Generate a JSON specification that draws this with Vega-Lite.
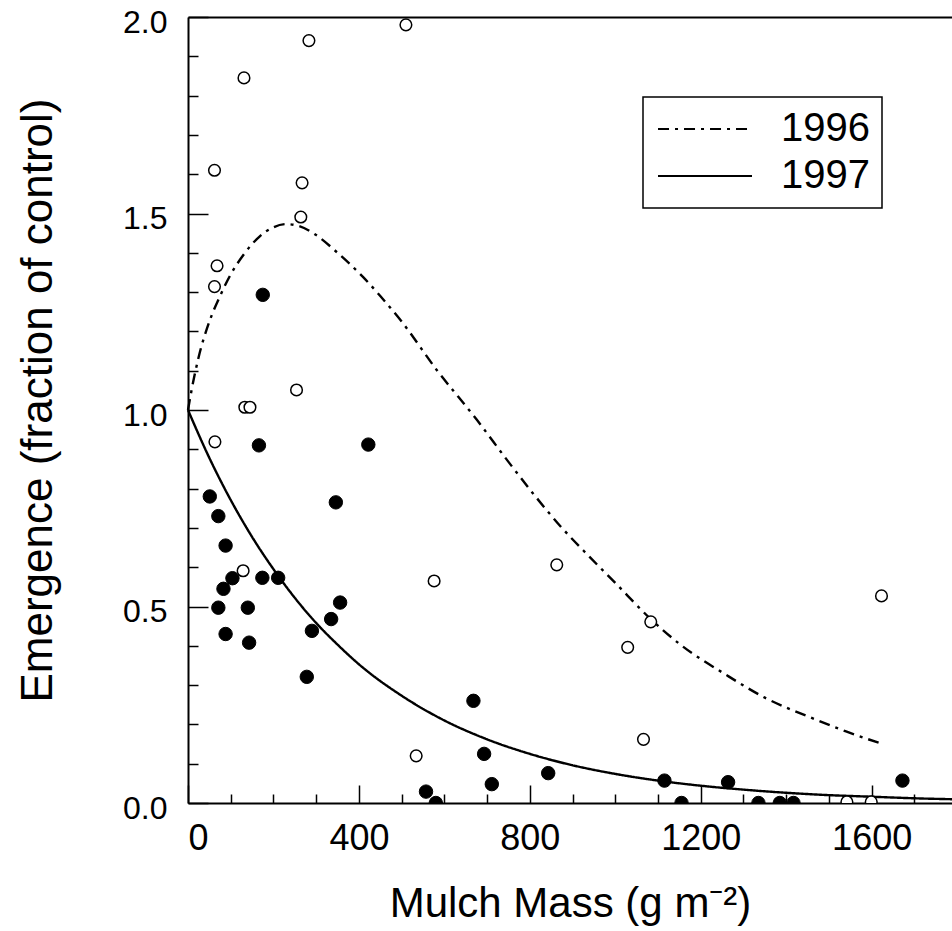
{
  "$schema": "https://vega.github.io/schema/vega-lite/v6.json",
  "width": 764,
  "height": 786,
  "autosize": {"type": "none"},
  "padding": {"left": 188, "top": 17, "right": 0, "bottom": 128},
  "background": "white",
  "config": {
    "view": {"stroke": null},
    "font": "Liberation Sans",
    "axis": {
      "domainColor": "black", "domainWidth": 2, "tickColor": "black", "tickWidth": 1.5,
      "labelColor": "black", "titleColor": "black", "grid": false,
      "labelFont": "Liberation Sans", "titleFont": "Liberation Sans", "titleFontWeight": "normal",
      "labelOverlap": false
    },
    "legend": {
      "orient": "none", "legendX": 455, "legendY": 80, "padding": 12,
      "strokeColor": "black", "strokeWidth": 1.5, "fillColor": "white",
      "labelFontSize": 40, "labelFont": "Liberation Sans",
      "labelColor": "black", "labelOffset": 56, "rowPadding": 7
    }
  },
  "datasets": {
    "points": [
      {"year": "1996", "mass": 510, "emergence": 1.98},
      {"year": "1996", "mass": 283, "emergence": 1.94},
      {"year": "1996", "mass": 131, "emergence": 1.845},
      {"year": "1996", "mass": 62, "emergence": 1.61},
      {"year": "1996", "mass": 267, "emergence": 1.578},
      {"year": "1996", "mass": 264, "emergence": 1.491},
      {"year": "1996", "mass": 68, "emergence": 1.367},
      {"year": "1996", "mass": 62, "emergence": 1.314},
      {"year": "1996", "mass": 254, "emergence": 1.051},
      {"year": "1996", "mass": 133, "emergence": 1.007},
      {"year": "1996", "mass": 145, "emergence": 1.007},
      {"year": "1996", "mass": 63, "emergence": 0.919},
      {"year": "1996", "mass": 129, "emergence": 0.591},
      {"year": "1996", "mass": 576, "emergence": 0.565},
      {"year": "1996", "mass": 863, "emergence": 0.606},
      {"year": "1996", "mass": 1623, "emergence": 0.527},
      {"year": "1996", "mass": 1083, "emergence": 0.461},
      {"year": "1996", "mass": 1029, "emergence": 0.396},
      {"year": "1996", "mass": 534, "emergence": 0.12},
      {"year": "1996", "mass": 1066, "emergence": 0.162},
      {"year": "1996", "mass": 1542, "emergence": 0.003},
      {"year": "1996", "mass": 1599, "emergence": 0.003},
      {"year": "1997", "mass": 51, "emergence": 0.78},
      {"year": "1997", "mass": 71, "emergence": 0.73},
      {"year": "1997", "mass": 88, "emergence": 0.655},
      {"year": "1997", "mass": 83, "emergence": 0.545},
      {"year": "1997", "mass": 104, "emergence": 0.572},
      {"year": "1997", "mass": 71, "emergence": 0.497},
      {"year": "1997", "mass": 88, "emergence": 0.43},
      {"year": "1997", "mass": 140, "emergence": 0.497},
      {"year": "1997", "mass": 143, "emergence": 0.408},
      {"year": "1997", "mass": 174, "emergence": 0.573},
      {"year": "1997", "mass": 211, "emergence": 0.573},
      {"year": "1997", "mass": 166, "emergence": 0.91},
      {"year": "1997", "mass": 175, "emergence": 1.293},
      {"year": "1997", "mass": 278, "emergence": 0.321},
      {"year": "1997", "mass": 290, "emergence": 0.438},
      {"year": "1997", "mass": 335, "emergence": 0.468},
      {"year": "1997", "mass": 356, "emergence": 0.51},
      {"year": "1997", "mass": 346, "emergence": 0.765},
      {"year": "1997", "mass": 422, "emergence": 0.912},
      {"year": "1997", "mass": 557, "emergence": 0.029},
      {"year": "1997", "mass": 580, "emergence": 0.0},
      {"year": "1997", "mass": 668, "emergence": 0.26},
      {"year": "1997", "mass": 693, "emergence": 0.125},
      {"year": "1997", "mass": 711, "emergence": 0.048},
      {"year": "1997", "mass": 843, "emergence": 0.076},
      {"year": "1997", "mass": 1115, "emergence": 0.057},
      {"year": "1997", "mass": 1155, "emergence": 0.0},
      {"year": "1997", "mass": 1264, "emergence": 0.053},
      {"year": "1997", "mass": 1335, "emergence": 0.0},
      {"year": "1997", "mass": 1385, "emergence": 0.0},
      {"year": "1997", "mass": 1417, "emergence": 0.0},
      {"year": "1997", "mass": 1672, "emergence": 0.057}
    ],
    "fits": [
      {"year": "1996", "mass": 0, "emergence": 1.0},
      {"year": "1996", "mass": 10, "emergence": 1.06},
      {"year": "1996", "mass": 25, "emergence": 1.135},
      {"year": "1996", "mass": 50, "emergence": 1.225},
      {"year": "1996", "mass": 75, "emergence": 1.29},
      {"year": "1996", "mass": 100, "emergence": 1.345},
      {"year": "1996", "mass": 130, "emergence": 1.395},
      {"year": "1996", "mass": 168, "emergence": 1.442},
      {"year": "1996", "mass": 200, "emergence": 1.465},
      {"year": "1996", "mass": 230, "emergence": 1.473},
      {"year": "1996", "mass": 260, "emergence": 1.468},
      {"year": "1996", "mass": 300, "emergence": 1.445},
      {"year": "1996", "mass": 350, "emergence": 1.4},
      {"year": "1996", "mass": 410, "emergence": 1.338},
      {"year": "1996", "mass": 450, "emergence": 1.29},
      {"year": "1996", "mass": 500, "emergence": 1.225},
      {"year": "1996", "mass": 582, "emergence": 1.102},
      {"year": "1996", "mass": 676, "emergence": 0.975},
      {"year": "1996", "mass": 750, "emergence": 0.868},
      {"year": "1996", "mass": 808, "emergence": 0.787},
      {"year": "1996", "mass": 871, "emergence": 0.705},
      {"year": "1996", "mass": 941, "emergence": 0.625},
      {"year": "1996", "mass": 1000, "emergence": 0.56},
      {"year": "1996", "mass": 1081, "emergence": 0.47},
      {"year": "1996", "mass": 1150, "emergence": 0.405},
      {"year": "1996", "mass": 1261, "emergence": 0.325},
      {"year": "1996", "mass": 1350, "emergence": 0.268},
      {"year": "1996", "mass": 1456, "emergence": 0.218},
      {"year": "1996", "mass": 1540, "emergence": 0.182},
      {"year": "1996", "mass": 1620, "emergence": 0.152},
      {"year": "1997", "mass": 0, "emergence": 1.0},
      {"year": "1997", "mass": 50, "emergence": 0.878},
      {"year": "1997", "mass": 100, "emergence": 0.771},
      {"year": "1997", "mass": 150, "emergence": 0.677},
      {"year": "1997", "mass": 200, "emergence": 0.595},
      {"year": "1997", "mass": 250, "emergence": 0.522},
      {"year": "1997", "mass": 300, "emergence": 0.458},
      {"year": "1997", "mass": 350, "emergence": 0.403},
      {"year": "1997", "mass": 400, "emergence": 0.353},
      {"year": "1997", "mass": 500, "emergence": 0.273},
      {"year": "1997", "mass": 600, "emergence": 0.21},
      {"year": "1997", "mass": 700, "emergence": 0.162},
      {"year": "1997", "mass": 800, "emergence": 0.125},
      {"year": "1997", "mass": 900, "emergence": 0.096},
      {"year": "1997", "mass": 1000, "emergence": 0.074},
      {"year": "1997", "mass": 1100, "emergence": 0.057},
      {"year": "1997", "mass": 1200, "emergence": 0.044},
      {"year": "1997", "mass": 1300, "emergence": 0.034},
      {"year": "1997", "mass": 1400, "emergence": 0.026},
      {"year": "1997", "mass": 1500, "emergence": 0.02},
      {"year": "1997", "mass": 1600, "emergence": 0.016},
      {"year": "1997", "mass": 1700, "emergence": 0.012},
      {"year": "1997", "mass": 1788, "emergence": 0.0096}
    ]
  },
  "resolve": {"axis": {"x": "independent"}},
  "encoding": {
    "y": {
      "field": "emergence", "type": "quantitative",
      "scale": {"domain": [0, 2], "nice": false},
      "axis": {
        "orient": "left",
        "values": [0, 0.1, 0.2, 0.3, 0.4, 0.5, 0.6, 0.7, 0.8, 0.9, 1, 1.1, 1.2, 1.3, 1.4, 1.5, 1.6, 1.7, 1.8, 1.9, 2],
        "labelExpr": "abs(datum.value*2 - round(datum.value*2)) < 0.001 ? format(datum.value, '.1f') : ''",
        "tickSize": {"condition": {"test": "abs(datum.value*2 - round(datum.value*2)) < 0.001", "value": -20}, "value": -10},
        "labelOverlap": false, "labelBound": false,
        "labelFontSize": 32, "labelPadding": 41, "labelOffset": 5,
        "title": "Emergence (fraction of control)", "titleFontSize": 44, "titlePadding": 62, "titleY": 383
      }
    }
  },
  "layer": [
    {
      "data": {"name": "fits"},
      "mark": {"type": "line", "color": "black", "interpolate": "monotone", "strokeWidth": 2.4},
      "encoding": {
        "x": {
          "field": "mass", "type": "quantitative",
          "scale": {"domain": [0, 1788], "nice": false, "zero": false},
          "axis": {"orient": "top", "labels": false, "ticks": false, "domain": true, "domainWidth": 2, "title": null}
        },
        "strokeDash": {
          "field": "year", "type": "nominal",
          "scale": {"domain": ["1996", "1997"], "range": [[11, 6, 3, 6], [1, 0]]},
          "legend": {
            "title": null, "symbolType": "M-3,0H3", "symbolSize": 981, "symbolOffset": 30,
            "symbolStrokeColor": "black", "symbolStrokeWidth": 2
          }
        }
      }
    },
    {
      "data": {"name": "points"},
      "transform": [{"filter": "datum.year === '1996'"}],
      "mark": {"type": "circle", "stroke": "black", "strokeWidth": 1.5, "fill": "white", "opacity": 1, "size": 135, "clip": true},
      "encoding": {
        "x": {
          "field": "mass", "type": "quantitative",
          "axis": {
            "orient": "bottom",
            "values": [0, 100, 200, 300, 400, 500, 600, 700, 800, 900, 1000, 1100, 1200, 1300, 1400, 1500, 1600, 1700],
            "format": "d",
            "labelExpr": "datum.value % 400 === 0 ? datum.label : ''",
            "tickSize": {"condition": {"test": "datum.value % 400 === 0", "value": -18}, "value": -9},
            "labelOverlap": false, "labelBound": false,
            "labelFontSize": 36, "labelPadding": 36,
            "title": "Mulch Mass (g m⁻²)", "titleFontSize": 42, "titlePadding": 18
          }
        }
      }
    },
    {
      "data": {"name": "points"},
      "transform": [{"filter": "datum.year === '1997'"}],
      "mark": {"type": "circle", "stroke": "black", "strokeWidth": 1, "fill": "black", "opacity": 1, "size": 180, "clip": true},
      "encoding": {
        "x": {"field": "mass", "type": "quantitative", "axis": null}
      }
    }
  ]
}
